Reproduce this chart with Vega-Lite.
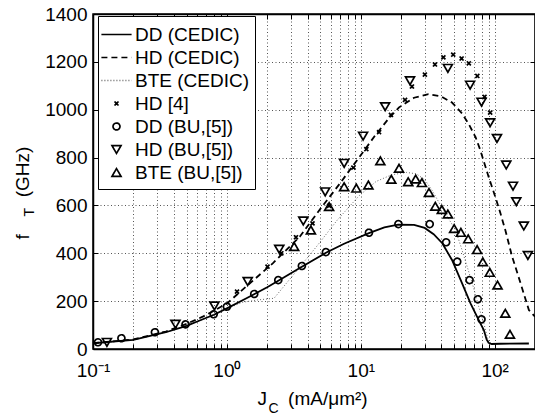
{
  "$schema": "https://vega.github.io/schema/vega-lite/v6.json",
  "width": 442,
  "height": 335,
  "autosize": {"type": "none"},
  "padding": {"left": 93, "top": 14, "right": 0, "bottom": 66},
  "background": "white",
  "config": {
    "font": "Liberation Sans",
    "view": {"stroke": "black", "strokeWidth": 1.5},
    "axis": {
      "domainColor": "black",
      "domainWidth": 1.5,
      "tickColor": "black",
      "tickWidth": 1,
      "labelColor": "black",
      "labelFont": "Liberation Sans",
      "labelFontSize": 19,
      "titleFont": "Liberation Sans",
      "titleColor": "black",
      "titleFontWeight": "normal",
      "gridColor": "#555",
      "gridDash": [1, 2.5],
      "gridWidth": 1
    },
    "legend": {
      "labelFont": "Liberation Sans",
      "labelFontSize": 19,
      "labelColor": "black",
      "labelLimit": 300,
      "symbolSize": 500,
      "symbolStrokeWidth": 1.7,
      "padding": 6,
      "rowPadding": 0,
      "labelOffset": 6,
      "strokeColor": "black",
      "fillColor": "white"
    }
  },
  "datasets": {
    "lines": [
      {"series": "DD (CEDIC)", "J": 0.1, "fT": 24},
      {"series": "DD (CEDIC)", "J": 0.2, "fT": 38},
      {"series": "DD (CEDIC)", "J": 0.35, "fT": 70},
      {"series": "DD (CEDIC)", "J": 0.5, "fT": 97},
      {"series": "DD (CEDIC)", "J": 0.62, "fT": 118},
      {"series": "DD (CEDIC)", "J": 0.8, "fT": 143},
      {"series": "DD (CEDIC)", "J": 1.0, "fT": 170},
      {"series": "DD (CEDIC)", "J": 1.4, "fT": 212},
      {"series": "DD (CEDIC)", "J": 2.0, "fT": 258},
      {"series": "DD (CEDIC)", "J": 2.42, "fT": 285},
      {"series": "DD (CEDIC)", "J": 3.63, "fT": 344},
      {"series": "DD (CEDIC)", "J": 5.49, "fT": 402},
      {"series": "DD (CEDIC)", "J": 7.5, "fT": 440},
      {"series": "DD (CEDIC)", "J": 11.5, "fT": 484},
      {"series": "DD (CEDIC)", "J": 15, "fT": 508},
      {"series": "DD (CEDIC)", "J": 19, "fT": 520},
      {"series": "DD (CEDIC)", "J": 25, "fT": 519},
      {"series": "DD (CEDIC)", "J": 30, "fT": 506},
      {"series": "DD (CEDIC)", "J": 35, "fT": 480},
      {"series": "DD (CEDIC)", "J": 40.6, "fT": 442},
      {"series": "DD (CEDIC)", "J": 48, "fT": 372},
      {"series": "DD (CEDIC)", "J": 57, "fT": 275},
      {"series": "DD (CEDIC)", "J": 66, "fT": 191},
      {"series": "DD (CEDIC)", "J": 76, "fT": 121},
      {"series": "DD (CEDIC)", "J": 83, "fT": 79},
      {"series": "DD (CEDIC)", "J": 87, "fT": 40},
      {"series": "DD (CEDIC)", "J": 90, "fT": 26},
      {"series": "DD (CEDIC)", "J": 95, "fT": 21},
      {"series": "DD (CEDIC)", "J": 110, "fT": 22},
      {"series": "DD (CEDIC)", "J": 180, "fT": 23},
      {"series": "HD (CEDIC)", "J": 0.1, "fT": 24},
      {"series": "HD (CEDIC)", "J": 0.2, "fT": 40},
      {"series": "HD (CEDIC)", "J": 0.35, "fT": 73},
      {"series": "HD (CEDIC)", "J": 0.5, "fT": 105},
      {"series": "HD (CEDIC)", "J": 0.66, "fT": 135},
      {"series": "HD (CEDIC)", "J": 0.8, "fT": 160},
      {"series": "HD (CEDIC)", "J": 1.0, "fT": 190},
      {"series": "HD (CEDIC)", "J": 1.4, "fT": 262},
      {"series": "HD (CEDIC)", "J": 2.2, "fT": 358},
      {"series": "HD (CEDIC)", "J": 3.5, "fT": 469},
      {"series": "HD (CEDIC)", "J": 4.9, "fT": 580},
      {"series": "HD (CEDIC)", "J": 6.9, "fT": 688},
      {"series": "HD (CEDIC)", "J": 9.7, "fT": 800},
      {"series": "HD (CEDIC)", "J": 12.9, "fT": 895},
      {"series": "HD (CEDIC)", "J": 16, "fT": 960},
      {"series": "HD (CEDIC)", "J": 19.3, "fT": 1010},
      {"series": "HD (CEDIC)", "J": 25, "fT": 1050},
      {"series": "HD (CEDIC)", "J": 32, "fT": 1065},
      {"series": "HD (CEDIC)", "J": 40, "fT": 1055},
      {"series": "HD (CEDIC)", "J": 48, "fT": 1030},
      {"series": "HD (CEDIC)", "J": 57, "fT": 985},
      {"series": "HD (CEDIC)", "J": 64, "fT": 940},
      {"series": "HD (CEDIC)", "J": 72, "fT": 885},
      {"series": "HD (CEDIC)", "J": 78, "fT": 832},
      {"series": "HD (CEDIC)", "J": 90, "fT": 720},
      {"series": "HD (CEDIC)", "J": 101, "fT": 636},
      {"series": "HD (CEDIC)", "J": 110, "fT": 570},
      {"series": "HD (CEDIC)", "J": 120, "fT": 497},
      {"series": "HD (CEDIC)", "J": 135, "fT": 386},
      {"series": "HD (CEDIC)", "J": 156, "fT": 275},
      {"series": "HD (CEDIC)", "J": 180, "fT": 163},
      {"series": "HD (CEDIC)", "J": 200, "fT": 135},
      {"series": "BTE (CEDIC)", "J": 0.1, "fT": 24},
      {"series": "BTE (CEDIC)", "J": 0.2, "fT": 38},
      {"series": "BTE (CEDIC)", "J": 0.35, "fT": 70},
      {"series": "BTE (CEDIC)", "J": 0.5, "fT": 97},
      {"series": "BTE (CEDIC)", "J": 0.8, "fT": 143},
      {"series": "BTE (CEDIC)", "J": 1.0, "fT": 168},
      {"series": "BTE (CEDIC)", "J": 1.3, "fT": 195},
      {"series": "BTE (CEDIC)", "J": 1.7, "fT": 205},
      {"series": "BTE (CEDIC)", "J": 2.25, "fT": 212},
      {"series": "BTE (CEDIC)", "J": 3.2, "fT": 316},
      {"series": "BTE (CEDIC)", "J": 4.67, "fT": 428},
      {"series": "BTE (CEDIC)", "J": 6.7, "fT": 540},
      {"series": "BTE (CEDIC)", "J": 9.7, "fT": 640},
      {"series": "BTE (CEDIC)", "J": 13, "fT": 700},
      {"series": "BTE (CEDIC)", "J": 17, "fT": 728},
      {"series": "BTE (CEDIC)", "J": 22, "fT": 738},
      {"series": "BTE (CEDIC)", "J": 26, "fT": 732},
      {"series": "BTE (CEDIC)", "J": 30, "fT": 708},
      {"series": "BTE (CEDIC)", "J": 34, "fT": 664},
      {"series": "BTE (CEDIC)", "J": 40.6, "fT": 588},
      {"series": "BTE (CEDIC)", "J": 51, "fT": 497},
      {"series": "BTE (CEDIC)", "J": 57, "fT": 414},
      {"series": "BTE (CEDIC)", "J": 68, "fT": 275},
      {"series": "BTE (CEDIC)", "J": 76, "fT": 177},
      {"series": "BTE (CEDIC)", "J": 83, "fT": 107},
      {"series": "BTE (CEDIC)", "J": 90, "fT": 30},
      {"series": "BTE (CEDIC)", "J": 95, "fT": 22}
    ],
    "pts": [
      {"series": "HD [4]", "J": 1.19, "fT": 240},
      {"series": "HD [4]", "J": 2.01, "fT": 344},
      {"series": "HD [4]", "J": 2.55, "fT": 400},
      {"series": "HD [4]", "J": 3.28, "fT": 467},
      {"series": "HD [4]", "J": 4.36, "fT": 525},
      {"series": "HD [4]", "J": 5.8, "fT": 598},
      {"series": "HD [4]", "J": 8.8, "fT": 758},
      {"series": "HD [4]", "J": 11.0, "fT": 835},
      {"series": "HD [4]", "J": 13.7, "fT": 906},
      {"series": "HD [4]", "J": 16.8, "fT": 978},
      {"series": "HD [4]", "J": 21.4, "fT": 1041},
      {"series": "HD [4]", "J": 24.1, "fT": 1097},
      {"series": "HD [4]", "J": 30.1, "fT": 1147},
      {"series": "HD [4]", "J": 35.8, "fT": 1189},
      {"series": "HD [4]", "J": 41.4, "fT": 1219},
      {"series": "HD [4]", "J": 49.0, "fT": 1230},
      {"series": "HD [4]", "J": 56.6, "fT": 1214},
      {"series": "HD [4]", "J": 64.1, "fT": 1194},
      {"series": "HD [4]", "J": 74.2, "fT": 1141},
      {"series": "HD [4]", "J": 84.0, "fT": 1054},
      {"series": "HD [4]", "J": 92.5, "fT": 988},
      {"series": "DD (BU,[5])", "J": 0.109, "fT": 28},
      {"series": "DD (BU,[5])", "J": 0.163, "fT": 45},
      {"series": "DD (BU,[5])", "J": 0.29, "fT": 70},
      {"series": "DD (BU,[5])", "J": 0.491, "fT": 103},
      {"series": "DD (BU,[5])", "J": 0.797, "fT": 145},
      {"series": "DD (BU,[5])", "J": 1.0, "fT": 177},
      {"series": "DD (BU,[5])", "J": 1.6, "fT": 230},
      {"series": "DD (BU,[5])", "J": 2.42, "fT": 288},
      {"series": "DD (BU,[5])", "J": 3.63, "fT": 347},
      {"series": "DD (BU,[5])", "J": 5.49, "fT": 405},
      {"series": "DD (BU,[5])", "J": 11.5, "fT": 486},
      {"series": "DD (BU,[5])", "J": 19.1, "fT": 522},
      {"series": "DD (BU,[5])", "J": 32.7, "fT": 522},
      {"series": "DD (BU,[5])", "J": 43.4, "fT": 446},
      {"series": "DD (BU,[5])", "J": 52.5, "fT": 365},
      {"series": "DD (BU,[5])", "J": 64.9, "fT": 288},
      {"series": "DD (BU,[5])", "J": 74.8, "fT": 208},
      {"series": "DD (BU,[5])", "J": 79.7, "fT": 124},
      {"series": "HD (BU,[5])", "J": 0.127, "fT": 28},
      {"series": "HD (BU,[5])", "J": 0.413, "fT": 104},
      {"series": "HD (BU,[5])", "J": 0.807, "fT": 180},
      {"series": "HD (BU,[5])", "J": 1.43, "fT": 282},
      {"series": "HD (BU,[5])", "J": 2.46, "fT": 417},
      {"series": "HD (BU,[5])", "J": 3.72, "fT": 535},
      {"series": "HD (BU,[5])", "J": 5.42, "fT": 657},
      {"series": "HD (BU,[5])", "J": 7.51, "fT": 776},
      {"series": "HD (BU,[5])", "J": 10.4, "fT": 890},
      {"series": "HD (BU,[5])", "J": 15.2, "fT": 1013},
      {"series": "HD (BU,[5])", "J": 23.3, "fT": 1121},
      {"series": "HD (BU,[5])", "J": 44.7, "fT": 1173},
      {"series": "HD (BU,[5])", "J": 65.5, "fT": 1103},
      {"series": "HD (BU,[5])", "J": 79.7, "fT": 1032},
      {"series": "HD (BU,[5])", "J": 92.4, "fT": 946},
      {"series": "HD (BU,[5])", "J": 104, "fT": 880},
      {"series": "HD (BU,[5])", "J": 122, "fT": 769},
      {"series": "HD (BU,[5])", "J": 137, "fT": 681},
      {"series": "HD (BU,[5])", "J": 145, "fT": 616},
      {"series": "HD (BU,[5])", "J": 165, "fT": 514},
      {"series": "HD (BU,[5])", "J": 177, "fT": 391},
      {"series": "BTE (BU,[5])", "J": 3.18, "fT": 428},
      {"series": "BTE (BU,[5])", "J": 4.24, "fT": 497},
      {"series": "BTE (BU,[5])", "J": 5.8, "fT": 595},
      {"series": "BTE (BU,[5])", "J": 7.51, "fT": 678},
      {"series": "BTE (BU,[5])", "J": 9.26, "fT": 672},
      {"series": "BTE (BU,[5])", "J": 11.4, "fT": 685},
      {"series": "BTE (BU,[5])", "J": 14.0, "fT": 786},
      {"series": "BTE (BU,[5])", "J": 16.9, "fT": 709},
      {"series": "BTE (BU,[5])", "J": 19.3, "fT": 755},
      {"series": "BTE (BU,[5])", "J": 22.6, "fT": 699},
      {"series": "BTE (BU,[5])", "J": 25.7, "fT": 710},
      {"series": "BTE (BU,[5])", "J": 28.6, "fT": 695},
      {"series": "BTE (BU,[5])", "J": 32.3, "fT": 654},
      {"series": "BTE (BU,[5])", "J": 36.0, "fT": 596},
      {"series": "BTE (BU,[5])", "J": 40.3, "fT": 583},
      {"series": "BTE (BU,[5])", "J": 44.7, "fT": 564},
      {"series": "BTE (BU,[5])", "J": 49.8, "fT": 503},
      {"series": "BTE (BU,[5])", "J": 55.9, "fT": 487},
      {"series": "BTE (BU,[5])", "J": 63.4, "fT": 460},
      {"series": "BTE (BU,[5])", "J": 73.9, "fT": 415},
      {"series": "BTE (BU,[5])", "J": 81.5, "fT": 364},
      {"series": "BTE (BU,[5])", "J": 91.9, "fT": 320},
      {"series": "BTE (BU,[5])", "J": 105, "fT": 267},
      {"series": "BTE (BU,[5])", "J": 120, "fT": 149},
      {"series": "BTE (BU,[5])", "J": 130, "fT": 61}
    ]
  },
  "resolve": {"axis": {"x": "independent", "y": "independent"}},
  "layer": [
    {
      "data": {"name": "lines"},
      "transform": [{"filter": "datum.series === 'BTE (CEDIC)'"}],
      "mark": {"type": "line", "color": "#666", "strokeWidth": 1, "strokeDash": [1, 2]},
      "encoding": {
        "x": {
          "field": "J", "type": "quantitative",
          "scale": {"type": "log", "domain": [0.1, 200], "nice": false},
          "axis": {
            "values": [0.1, 0.2, 0.3, 0.4, 0.5, 0.6, 0.7, 0.8, 0.9, 1, 2, 3, 4, 5, 6, 7, 8, 9, 10, 20, 30, 40, 50, 60, 70, 80, 90, 100, 200],
            "labelExpr": "datum.value == 0.1 ? '10⁻¹' : datum.value == 1 ? '10⁰' : datum.value == 10 ? '10¹' : datum.value == 100 ? '10²' : ''",
            "labelOverlap": false,
            "labelFlush": false,
            "labelPadding": 17,
            "tickSize": -5,
            "grid": true,
            "title": "J\u00a0\u00a0\u00a0\u00a0(mA/μm²)",
            "titleFontSize": 19,
            "titleX": 164,
            "titleY": 55,
            "titleAlign": "left",
            "titleBaseline": "alphabetic"
          }
        },
        "y": {
          "field": "fT", "type": "quantitative",
          "scale": {"domain": [0, 1400], "nice": false},
          "axis": {
            "values": [0, 200, 400, 600, 800, 1000, 1200, 1400],
            "format": "d",
            "labelPadding": 11,
            "tickSize": -5,
            "grid": true,
            "title": "f\u00a0\u00a0\u00a0\u00a0\u00a0\u00a0\u00a0(GHz)",
            "titleFontSize": 19,
            "titleAngle": 270,
            "titleX": -65,
            "titleY": 225,
            "titleAlign": "left",
            "titleBaseline": "alphabetic"
          }
        }
      }
    },
    {
      "data": {"name": "lines"},
      "transform": [{"filter": "datum.series === 'DD (CEDIC)'"}],
      "mark": {"type": "line", "color": "black", "strokeWidth": 1.8},
      "encoding": {
        "x": {"field": "J", "type": "quantitative", "axis": null},
        "y": {"field": "fT", "type": "quantitative", "axis": null}
      }
    },
    {
      "data": {"name": "lines"},
      "transform": [{"filter": "datum.series === 'HD (CEDIC)'"}],
      "mark": {"type": "line", "color": "black", "strokeWidth": 1.8, "strokeDash": [6, 4]},
      "encoding": {
        "x": {"field": "J", "type": "quantitative", "axis": null},
        "y": {"field": "fT", "type": "quantitative", "axis": null}
      }
    },
    {
      "data": {"name": "pts"},
      "mark": {"type": "point", "filled": false, "strokeWidth": 1.7, "size": 500, "opacity": 1},
      "encoding": {
        "x": {
          "field": "J", "type": "quantitative",
          "axis": {
            "orient": "top",
            "values": [0.1, 0.2, 0.3, 0.4, 0.5, 0.6, 0.7, 0.8, 0.9, 1, 2, 3, 4, 5, 6, 7, 8, 9, 10, 20, 30, 40, 50, 60, 70, 80, 90, 100, 200],
            "labels": false,
            "grid": false,
            "tickSize": -5,
            "title": "C",
            "titleFontSize": 14,
            "titleX": 175,
            "titleY": 398,
            "titleAlign": "left",
            "titleBaseline": "alphabetic"
          }
        },
        "y": {
          "field": "fT", "type": "quantitative",
          "axis": {
            "orient": "right",
            "values": [0, 200, 400, 600, 800, 1000, 1200, 1400],
            "labels": false,
            "grid": false,
            "tickSize": -5,
            "title": "T",
            "titleFontSize": 14,
            "titleAngle": 270,
            "titleX": -502,
            "titleY": 202,
            "titleAlign": "left",
            "titleBaseline": "alphabetic"
          }
        },
        "shape": {
          "field": "series", "type": "nominal",
          "scale": {
            "domain": ["DD (CEDIC)", "HD (CEDIC)", "BTE (CEDIC)", "HD [4]", "DD (BU,[5])", "HD (BU,[5])", "BTE (BU,[5])"],
            "range": [
              "M-1.35,0H1.35",
              "M-1.35,0H1.35",
              "M-1.35,0H1.35",
              "M-0.18,-0.18L0.18,0.18M-0.18,0.18L0.18,-0.18",
              "M-0.31,0A0.31,0.31 0 1,0 0.31,0A0.31,0.31 0 1,0 -0.31,0Z",
              "M-0.4,-0.34L0.4,-0.34L0,0.35Z",
              "M-0.4,0.34L0.4,0.34L0,-0.35Z"
            ]
          },
          "legend": {"title": null, "orient": "none", "legendX": 5, "legendY": 2}
        },
        "strokeDash": {
          "field": "series", "type": "nominal",
          "scale": {
            "domain": ["DD (CEDIC)", "HD (CEDIC)", "BTE (CEDIC)", "HD [4]", "DD (BU,[5])", "HD (BU,[5])", "BTE (BU,[5])"],
            "range": [[1, 0], [6, 4], [1, 2], [1, 0], [1, 0], [1, 0], [1, 0]]
          },
          "legend": {"title": null, "orient": "none", "legendX": 5, "legendY": 2}
        },
        "color": {
          "field": "series", "type": "nominal",
          "scale": {
            "domain": ["DD (CEDIC)", "HD (CEDIC)", "BTE (CEDIC)", "HD [4]", "DD (BU,[5])", "HD (BU,[5])", "BTE (BU,[5])"],
            "range": ["black", "black", "#666", "black", "black", "black", "black"]
          },
          "legend": {"title": null, "orient": "none", "legendX": 5, "legendY": 2}
        }
      }
    }
  ]
}
